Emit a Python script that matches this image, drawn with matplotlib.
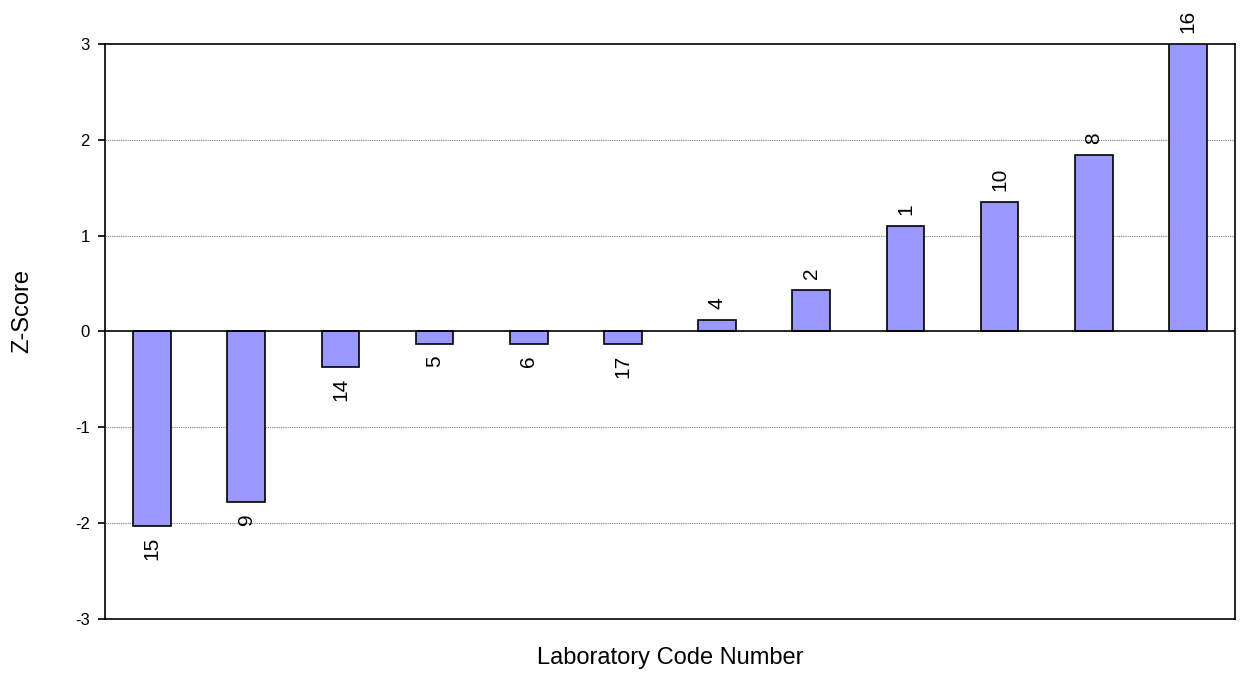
import matplotlib
matplotlib.use('Agg')
import matplotlib.pyplot as plt

plt.rcParams['font.family'] = ['Liberation Sans', 'DejaVu Sans']
plt.rcParams['axes.unicode_minus'] = False

labs = ['15', '9', '14', '5', '6', '17', '4', '2', '1', '10', '8', '16']
zscores = [-2.03, -1.78, -0.37, -0.13, -0.13, -0.13, 0.12, 0.43, 1.10, 1.35, 1.84, 3.0]

fig = plt.figure(figsize=(12.41, 6.75), dpi=100)
ax = fig.add_axes([105/1241, 1 - 619/675, 1130/1241, 575/675])

x = list(range(len(labs)))
ax.bar(x, zscores, width=0.4, color='#9999ff', edgecolor='black', linewidth=1.2, zorder=3)

ax.set_xlim(-0.5, len(labs) - 0.5)
ax.set_ylim(-3, 3)
ax.set_yticks([-3, -2, -1, 0, 1, 2, 3])
ax.set_xticks([])
for yv in [-2, -1, 1, 2]:
    ax.axhline(yv, color='#808080', linewidth=0.8, linestyle=(0, (1, 1)), zorder=1)
ax.axhline(0, color='black', linewidth=1.2, zorder=4)

for xi, v, s in zip(x, zscores, labs):
    if v >= 0:
        ax.annotate(s, (xi, v), xytext=(0, 8), textcoords='offset points',
                    rotation=90, ha='center', va='bottom', fontsize=15, clip_on=False)
    else:
        ax.annotate(s, (xi, v), xytext=(0, -8), textcoords='offset points',
                    rotation=90, ha='center', va='top', fontsize=15, clip_on=False)

for sp in ax.spines.values():
    sp.set_linewidth(1.2)
ax.tick_params(axis='y', direction='out', length=5, width=1.2, labelsize=12, pad=6)

ax.set_ylabel('Z-Score', fontsize=17)
ax.yaxis.set_label_coords(-0.0635, 0.536)
ax.set_xlabel('Laboratory Code Number', fontsize=17, labelpad=20)

fig.savefig('out.png', dpi=100)
